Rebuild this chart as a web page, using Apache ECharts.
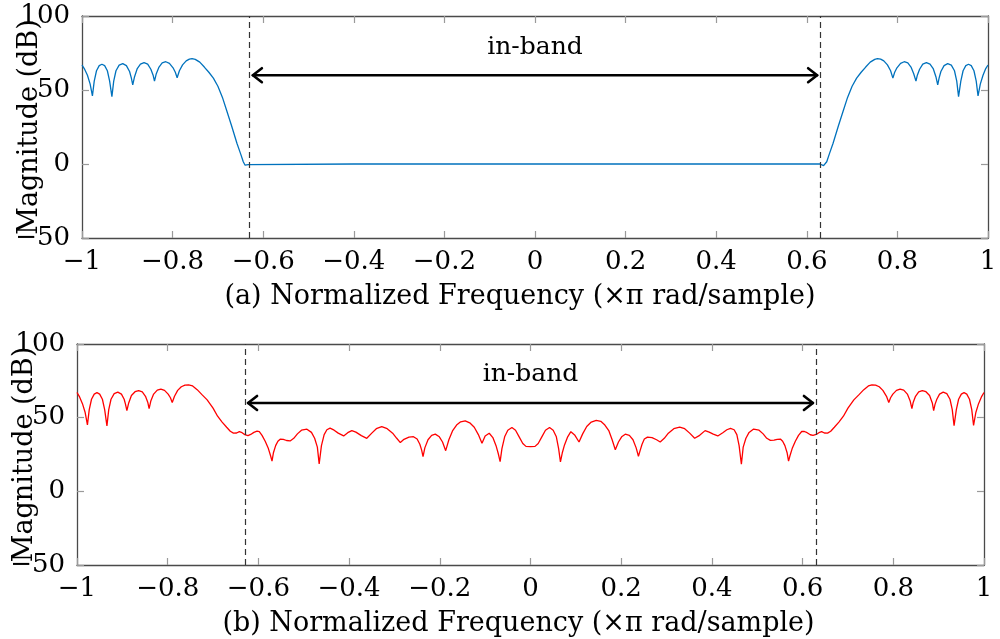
<!DOCTYPE html>
<html>
<head>
<meta charset="utf-8">
<script src="https://cdn.jsdelivr.net/npm/echarts@6/dist/echarts.min.js"></script>
<style>html,body{margin:0;padding:0;background:#fff;}#chart{width:1000px;height:639px;}</style>
</head>
<body>
<div id="chart"></div>
<script>
// ---------- data ----------
const xTicks = [-1, -0.8, -0.6, -0.4, -0.2, 0, 0.2, 0.4, 0.6, 0.8, 1];
const yTicks = [-50, 0, 50, 100];
const bandEdges = [-0.625, 0.625];
const arrowLevel = 60;
const bandLabelLevel = 79;
const bandLabel = 'in-band';
const yName = 'Magnitude (dB)';
const xNameA = '(a) Normalized Frequency (×π rad/sample)';
const xNameB = '(b) Normalized Frequency (×π rad/sample)';

// (a) response: [normalized frequency, dB]
const responseA = [
[-1.000,66.9],[-0.995,64.5],[-0.988,60],[-0.982,54],[-0.977,46],[-0.973,56],[-0.968,63],[-0.962,66.5],[-0.956,67.4],[-0.950,66.5],[-0.944,63],[-0.939,56],[-0.934,45.5],[-0.930,56],[-0.925,63],[-0.918,66.8],[-0.910,67.8],[-0.902,66.5],[-0.895,62.5],[-0.891,58],[-0.888,53.4],[-0.884,59],[-0.878,64.5],[-0.871,67.5],[-0.863,68.5],[-0.855,67.5],[-0.848,64],[-0.843,60],[-0.840,56],[-0.836,61],[-0.830,65.5],[-0.823,68.3],[-0.815,69.1],[-0.807,68],[-0.799,65],[-0.794,62],[-0.790,58.3],[-0.785,63],[-0.778,67],[-0.770,69.7],[-0.763,70.9],[-0.757,71.2],[-0.750,70.7],[-0.740,68.8],[-0.730,65.5],[-0.720,62],[-0.710,58],[-0.700,52.5],[-0.690,45],[-0.681,36.5],[-0.670,26],[-0.658,14],[-0.650,7],[-0.644,1.5],[-0.640,-0.8],[-0.637,-1.1],[-0.633,-0.4],[-0.629,0],
[-0.4,0],[-0.2,0],[0,0],[0.2,0],[0.4,0],
[0.629,0],[0.633,-0.4],[0.637,-1.1],[0.640,-0.8],[0.644,1.5],[0.650,7],[0.658,14],[0.670,26],[0.681,36.5],[0.690,45],[0.700,52.5],[0.710,58],[0.720,62],[0.730,65.5],[0.740,68.8],[0.750,70.7],[0.756,71.2],[0.763,70.9],[0.770,69.7],[0.778,67],[0.785,63],[0.790,58],[0.794,62],[0.799,65],[0.807,68],[0.815,69.1],[0.823,68.3],[0.830,65.5],[0.836,61],[0.841,56],[0.844,60],[0.849,64],[0.856,67.5],[0.864,68.5],[0.872,67.5],[0.879,64.5],[0.885,59],[0.889,53.5],[0.892,58],[0.896,62.5],[0.903,66.5],[0.911,67.8],[0.919,66.8],[0.926,63],[0.931,56],[0.935,45.5],[0.940,56],[0.945,63],[0.951,66.5],[0.957,67.4],[0.963,66.5],[0.969,63],[0.974,56],[0.978,46],[0.983,54],[0.989,60],[0.995,64.5],[1.000,66.9]
];

// (b) response: [normalized frequency, dB]
const responseB = [
[-1.000,67.1],[-0.995,64.5],[-0.988,59.5],[-0.982,53.5],[-0.977,45.1],[-0.973,55.5],[-0.968,62.5],[-0.962,66],[-0.956,67],[-0.950,66],[-0.944,62.5],[-0.939,55.5],[-0.934,44.4],[-0.930,55.5],[-0.925,62.5],[-0.918,66.3],[-0.910,67.3],[-0.902,66],[-0.896,62.5],[-0.893,59],[-0.890,54.8],[-0.886,60],[-0.880,65],[-0.872,67.6],[-0.864,68.4],[-0.856,67.5],[-0.849,64.5],[-0.844,60.5],[-0.841,56.2],[-0.837,61.5],[-0.831,66],[-0.823,68.7],[-0.815,69.4],[-0.807,68.5],[-0.799,66],[-0.794,63.5],[-0.790,60.3],[-0.785,64.5],[-0.778,68.5],[-0.770,71],[-0.762,72.1],[-0.754,72.3],[-0.745,71.5],[-0.735,69],[-0.725,65.8],[-0.713,62.1],[-0.700,56.5],[-0.690,51],[-0.680,47],[-0.670,43.5],[-0.662,40.8],[-0.655,39.5],[-0.648,39.6],[-0.642,40.5],[-0.636,39.8],[-0.630,38.5],[-0.623,37.8],[-0.617,38.6],[-0.610,40],[-0.603,40.8],[-0.598,40.5],[-0.592,38],[-0.585,34],[-0.578,29],[-0.573,24],[-0.570,20.5],[-0.567,26],[-0.562,31],[-0.557,34],[-0.552,35.4],[-0.545,35.2],[-0.538,34.5],[-0.530,34.2],[-0.522,36],[-0.514,39],[-0.505,41.5],[-0.493,42.2],[-0.483,40],[-0.476,36],[-0.470,30],[-0.466,18.6],[-0.461,31],[-0.455,38.5],[-0.449,41.8],[-0.442,42.9],[-0.433,41.5],[-0.424,39.5],[-0.412,37.6],[-0.403,39.8],[-0.394,41.2],[-0.385,40.2],[-0.373,37.8],[-0.361,36],[-0.350,39.5],[-0.340,42.5],[-0.328,43.9],[-0.316,42.5],[-0.304,39.5],[-0.295,36],[-0.287,33.1],[-0.279,35.3],[-0.268,36.8],[-0.258,37.1],[-0.250,35.5],[-0.244,32],[-0.240,28],[-0.237,23.6],[-0.233,29.5],[-0.226,35],[-0.218,38],[-0.210,38.8],[-0.201,37],[-0.194,33.5],[-0.187,27.6],[-0.180,35],[-0.172,41],[-0.163,45],[-0.154,47.2],[-0.144,47.8],[-0.134,46.5],[-0.124,43.5],[-0.115,38.5],[-0.107,32.6],[-0.100,37.5],[-0.091,39.4],[-0.083,36.5],[-0.076,31],[-0.071,25.5],[-0.067,20.2],[-0.063,29],[-0.057,37],[-0.050,41.5],[-0.041,43.3],[-0.033,41.5],[-0.025,37],[-0.017,32.5],[-0.010,30.5],[0.000,30.3],
[0.010,30.5],[0.017,32.5],[0.025,37],[0.033,41.5],[0.042,43.3],[0.050,41.5],[0.057,37],[0.062,29],[0.066,20],[0.070,26],[0.075,31.5],[0.082,37],[0.089,40.5],[0.098,38],[0.107,33.5],[0.115,39],[0.124,44],[0.134,47],[0.145,48.2],[0.155,47.5],[0.164,45],[0.173,41],[0.180,35],[0.187,28.2],[0.194,33.5],[0.201,37],[0.209,38.8],[0.218,38],[0.226,35],[0.233,29.5],[0.238,23.8],[0.242,28],[0.246,32],[0.251,35.5],[0.258,36.8],[0.268,36.5],[0.278,35],[0.286,33.5],[0.295,36],[0.304,39.5],[0.316,42.5],[0.329,43.6],[0.340,42.5],[0.351,39.5],[0.362,36],[0.373,38],[0.385,41.2],[0.394,40.2],[0.403,38.8],[0.413,37.6],[0.424,39.8],[0.433,41.8],[0.441,42.8],[0.449,41.8],[0.455,38.5],[0.460,31],[0.465,18.4],[0.469,30],[0.475,36],[0.482,40],[0.492,42.3],[0.504,41.5],[0.513,39],[0.521,36],[0.529,34.6],[0.537,34.8],[0.544,35.3],[0.551,35.5],[0.556,34],[0.561,31],[0.566,26],[0.569,20.5],[0.572,24],[0.577,29],[0.584,34],[0.591,38],[0.598,40.6],[0.604,40.6],[0.610,39.8],[0.617,38.4],[0.623,38],[0.630,38.6],[0.636,39.8],[0.642,40.5],[0.648,39.6],[0.655,39.5],[0.662,40.8],[0.670,43.5],[0.680,47],[0.690,51],[0.700,56.5],[0.713,62.1],[0.725,65.8],[0.735,69],[0.745,71.5],[0.753,72.3],[0.761,72.1],[0.769,71],[0.777,68.5],[0.785,64.5],[0.790,60.3],[0.794,63.5],[0.799,66],[0.807,68.5],[0.815,69.4],[0.823,68.7],[0.831,66],[0.837,61.5],[0.841,56.2],[0.844,60.5],[0.849,64.5],[0.856,67.5],[0.864,68.4],[0.872,67.6],[0.880,65],[0.886,60],[0.889,54.8],[0.892,59],[0.896,62.5],[0.902,66],[0.910,67.3],[0.918,66.3],[0.925,62.5],[0.930,55.5],[0.934,44.5],[0.939,55.5],[0.944,62.5],[0.950,66],[0.956,67],[0.962,66],[0.968,62.5],[0.973,55.5],[0.977,44.8],[0.982,53.5],[0.988,59.5],[0.995,64.5],[1.000,67.1]
];

// ---------- chart ----------
const FONT = '"DejaVu Serif", "Liberation Serif", serif';
const FS = 26;
const NAME_FS = 27;
const frameColor = '#4a4a4a';
const tickColor = '#9a9a9a';
const fmtNum = v => {
  const r = Math.round(v * 10) / 10;
  return (r < 0 ? '\u2212' : '') + String(Math.abs(r));
};

function xAxes(grid, name, shiftPad) {
  return [
    { type: 'value', gridIndex: grid, position: 'bottom', min: xTicks[0], max: xTicks[xTicks.length - 1], interval: 0.2,
      name: name, nameLocation: 'middle', nameGap: 45, nameMoveOverlap: false,
      nameTextStyle: { fontFamily: FONT, fontSize: NAME_FS, color: '#000', padding: [0, shiftPad, 0, 0] },
      axisLine: { show: true, onZero: false, lineStyle: { color: frameColor, width: 1.3 } },
      axisTick: { show: true, inside: true, length: 7, lineStyle: { color: tickColor, width: 1.2 } },
      axisLabel: { show: true, margin: 11, fontFamily: FONT, fontSize: FS, color: '#000', formatter: fmtNum },
      splitLine: { show: false } },
    { type: 'value', gridIndex: grid, position: 'top', min: xTicks[0], max: xTicks[xTicks.length - 1], interval: 0.2,
      axisLine: { show: true, onZero: false, lineStyle: { color: frameColor, width: 1.3 } },
      axisTick: { show: true, inside: true, length: 7, lineStyle: { color: tickColor, width: 1.2 } },
      axisLabel: { show: false }, splitLine: { show: false } }
  ];
}
function yAxes(grid) {
  return [
    { type: 'value', gridIndex: grid, position: 'left', min: yTicks[0], max: yTicks[yTicks.length - 1], interval: 50,
      name: yName, nameLocation: 'middle', nameGap: 39, nameRotate: 90, nameMoveOverlap: false,
      nameTextStyle: { fontFamily: FONT, fontSize: NAME_FS, color: '#000' },
      axisLine: { show: true, onZero: false, lineStyle: { color: frameColor, width: 1.3 } },
      axisTick: { show: true, inside: true, length: 7, lineStyle: { color: tickColor, width: 1.2 } },
      axisLabel: { show: true, margin: 12, fontFamily: FONT, fontSize: FS, color: '#000', formatter: fmtNum },
      splitLine: { show: false } },
    { type: 'value', gridIndex: grid, position: 'right', min: yTicks[0], max: yTicks[yTicks.length - 1], interval: 50,
      axisLine: { show: true, onZero: false, lineStyle: { color: frameColor, width: 1.3 } },
      axisTick: { show: true, inside: true, length: 7, lineStyle: { color: tickColor, width: 1.2 } },
      axisLabel: { show: false }, splitLine: { show: false } }
  ];
}

function renderBand(params, api) {
  const a = api.coord([api.value(0), api.value(2)]);
  const b = api.coord([api.value(1), api.value(2)]);
  const t = api.coord([(api.value(0) + api.value(1)) / 2, api.value(3)]);
  const h = 10, w = 7;
  const st = { stroke: '#000', lineWidth: 2.6, fill: null, lineCap: 'round', lineJoin: 'round' };
  return { type: 'group', children: [
    { type: 'line', shape: { x1: a[0] + 1, y1: a[1], x2: b[0] - 1, y2: b[1] }, style: st },
    { type: 'polyline', shape: { points: [[a[0] + h, a[1] - w], [a[0] + 1, a[1]], [a[0] + h, a[1] + w]] }, style: st },
    { type: 'polyline', shape: { points: [[b[0] - h, b[1] - w], [b[0] - 1, b[1]], [b[0] - h, b[1] + w]] }, style: st },
    { type: 'text', style: { x: t[0], y: t[1], text: bandLabel, fontFamily: FONT, fontSize: FS - 1, fill: '#000', align: 'center', verticalAlign: 'middle' } }
  ] };
}

function edgeLines() {
  return { silent: true, symbol: 'none', label: { show: false },
    lineStyle: { color: '#333', width: 1.2, type: [6, 4] },
    data: bandEdges.map(e => ({ xAxis: e })) };
}

const chart = echarts.init(document.getElementById('chart'), null, { renderer: 'canvas' });
chart.setOption({
  animation: false,
  backgroundColor: '#fff',
  grid: [
    { left: 82, right: 12, top: 16, height: 222, containLabel: false, outerBoundsMode: 'none' },
    { left: 77, right: 16, top: 344, height: 221, containLabel: false, outerBoundsMode: 'none' }
  ],
  xAxis: [...xAxes(0, xNameA, 30), ...xAxes(1, xNameB, 24)],
  yAxis: [...yAxes(0), ...yAxes(1)],
  series: [
    { type: 'line', xAxisIndex: 0, yAxisIndex: 0, data: responseA, showSymbol: false, symbol: 'none',
      lineStyle: { color: '#0072BD', width: 1.3 }, itemStyle: { color: '#0072BD' }, markLine: edgeLines(), z: 3 },
    { type: 'line', xAxisIndex: 2, yAxisIndex: 2, data: responseB, showSymbol: false, symbol: 'none',
      lineStyle: { color: '#FF0000', width: 1.3 }, itemStyle: { color: '#FF0000' }, markLine: edgeLines(), z: 3 },
    { type: 'custom', xAxisIndex: 0, yAxisIndex: 0, renderItem: renderBand, silent: true,
      data: [[bandEdges[0], bandEdges[1], arrowLevel, bandLabelLevel]], z: 4 },
    { type: 'custom', xAxisIndex: 2, yAxisIndex: 2, renderItem: renderBand, silent: true,
      data: [[bandEdges[0], bandEdges[1], arrowLevel, bandLabelLevel]], z: 4 }
  ]
});
</script>
</body>
</html>
